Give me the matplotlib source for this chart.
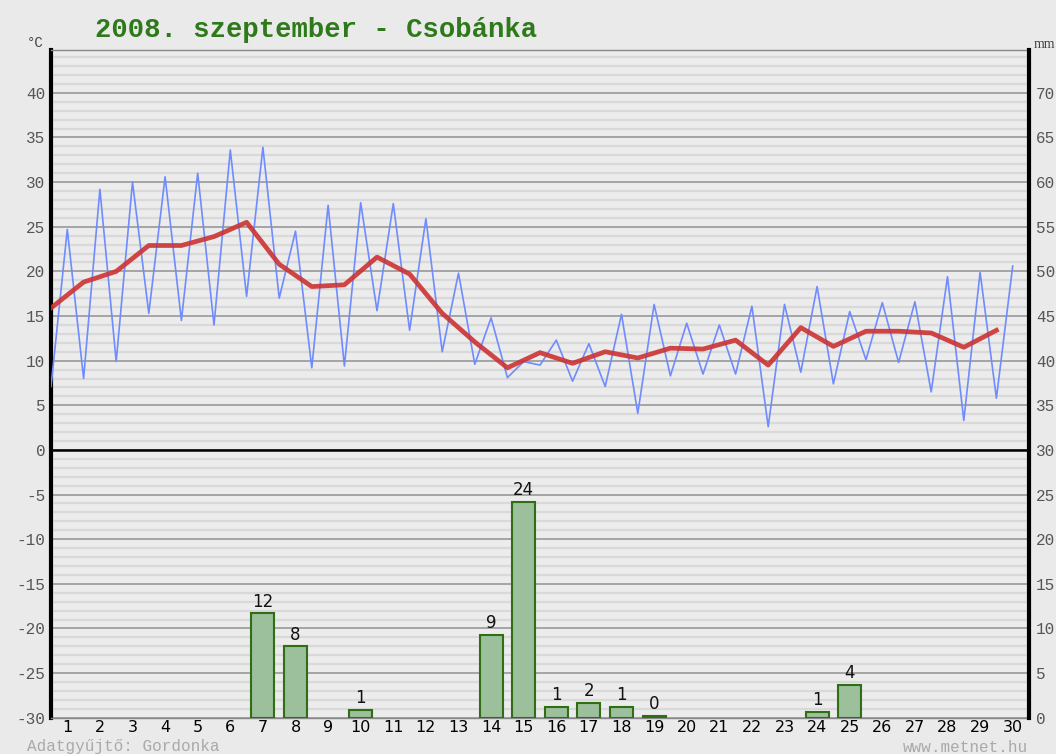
import numpy as np
import matplotlib.pyplot as plt

# daily data, 2008 September, Csobánka
days = np.arange(1, 31)
t_min = [7.1, 8.0, 9.9, 15.3, 14.5, 14.0, 17.2, 17.0, 9.2, 9.4,
         15.6, 13.4, 11.0, 9.6, 8.1, 9.5, 7.7, 7.1, 4.1, 8.3,
         8.5, 8.5, 2.6, 8.7, 7.4, 10.1, 9.8, 6.5, 3.3, 5.8]
t_max = [24.7, 29.2, 30.0, 30.6, 31.0, 33.6, 33.9, 24.5, 27.4, 27.7,
         27.6, 25.9, 19.8, 14.8, 9.9, 12.3, 11.9, 15.2, 16.3, 14.2,
         14.0, 16.1, 16.3, 18.3, 15.5, 16.5, 16.6, 19.4, 19.9, 20.6]
t_mean = [15.9, 18.8, 20.0, 22.9, 22.9, 23.9, 25.5, 20.8, 18.3, 18.5,
          21.6, 19.7, 15.3, 12.1, 9.2, 10.9, 9.7, 11.0, 10.3, 11.4,
          11.3, 12.3, 9.5, 13.7, 11.6, 13.3, 13.3, 13.1, 11.5, 13.4]
rain_days = [7, 8, 10, 14, 15, 16, 17, 18, 19, 24, 25]
rain_mm = [11.7, 8.0, 0.9, 9.3, 24.2, 1.2, 1.7, 1.2, 0.2, 0.7, 3.7]

plt.rcParams['axes.unicode_minus'] = False
mono = 'Liberation Mono'
narrow = ['Liberation Sans Narrow', 'DejaVu Sans']

fig = plt.figure(figsize=(10.56, 7.54), dpi=100, facecolor='#eaeaea')
ax = fig.add_axes([51/1056, 1-717.75/754, 978/1056, 667.75/754])
ax.set_facecolor('#ececec')
t_lo, t_hi = -30, 44.8
ax.set_ylim(t_lo, t_hi)
ax.set_xlim(0.5, 30.5)

ax.set_yticks(np.arange(-30, 41, 5))
ax.set_yticks(np.arange(-30, 45, 1), minor=True)
ax.grid(which='major', axis='y', color='#999999', lw=1.2)
ax.grid(which='minor', axis='y', color='#d9d9d9', lw=1.6)
ax.set_axisbelow(True)
ax.tick_params(axis='y', which='both', length=0, pad=4)
ax.set_yticklabels([str(v) for v in range(-30, 41, 5)], family=mono,
                   fontsize=11.5, color='#555555')
ax.set_xticks(days)
ax.set_xticklabels([str(d) for d in days], fontsize=11.5, color='black',
                   family=narrow)
ax.tick_params(axis='x', length=0, pad=1.5)

ax.spines['left'].set_linewidth(3)
ax.spines['left'].set_color('black')
for s in ['top', 'bottom']:
    ax.spines[s].set_color('#888888')
    ax.spines[s].set_linewidth(1)
ax.spines['right'].set_visible(False)
ax.axhline(0, color='black', lw=1.8, zorder=2)

# half-daily min/max series
x_temp = np.ravel(np.column_stack([days - 0.5, days]))
y_temp = np.ravel(np.column_stack([t_min, t_max]))
ax.plot(x_temp, y_temp, color='#6f8cff', lw=1.2, zorder=3)
ax.plot(days - 0.5, t_mean, color='#cc3333', lw=3.4, alpha=0.9,
        solid_joinstyle='round', zorder=4)

# precipitation on the mm scale (mm = °C + 30)
ax2 = ax.twinx()
ax2.set_ylim(t_lo + 30, t_hi + 30)
ax2.set_yticks(np.arange(0, 71, 5))
ax2.set_yticklabels([str(v) for v in range(0, 71, 5)], family=mono,
                    fontsize=11.5, color='#555555')
ax2.tick_params(axis='y', length=0, pad=5)
for s in ['left', 'top', 'bottom']:
    ax2.spines[s].set_visible(False)
ax2.spines['right'].set_linewidth(3)
ax2.spines['right'].set_color('black')
ax2.bar(rain_days, rain_mm, width=0.7, color='#9bc09b',
        edgecolor='#2f6e12', lw=1.5)
for d, v in zip(rain_days, rain_mm):
    ax2.text(d, v + 0.3, f'{v:.0f}', ha='center', va='bottom',
             fontsize=12, color='#111111', family=narrow)

fig.text(95/1056, 1-30/754, '2008. szeptember - Csobánka', family=mono,
         fontweight='bold', fontsize=19.6, color='#2e7a1a', va='center')
fig.text(27/1056, 1-43/754, '°C', family=mono, fontsize=10,
         color='#444444', va='center')
fig.text(1034/1056, 1-45/754, 'mm', family='Liberation Serif', fontsize=10,
         color='#444444', va='center')
fig.text(27/1056, 1-747/754, 'Adatgyűjtő: Gordonka', family=mono,
         fontsize=11.5, color='#aaaaaa', va='center')
fig.text(903/1056, 1-747/754, 'www.metnet.hu', family=mono,
         fontsize=11.5, color='#aaaaaa', va='center')

fig.savefig('out.png', dpi=100, facecolor=fig.get_facecolor())
